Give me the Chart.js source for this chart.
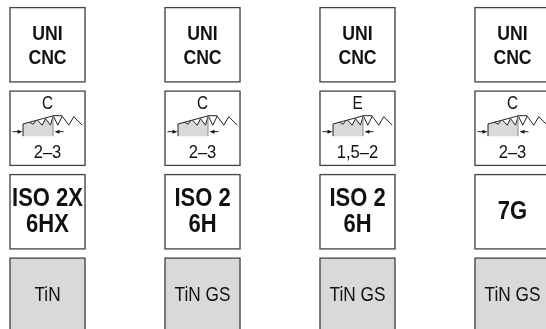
<!DOCTYPE html>
<html><head><meta charset="utf-8">
<style>
html,body{margin:0;padding:0;width:546px;height:329px;overflow:hidden;background:#fff}
#w{position:absolute;left:-30.5px;top:0;width:620px;height:340px}
</style>
<script src="https://cdn.jsdelivr.net/npm/chart.js@4/dist/chart.umd.min.js"></script>
</head><body><div id="w"><canvas id="c" width="620" height="340"></canvas></div>
<script>
const columns = ["A","B","C","D"];
const threadSystem = [["UNI","CNC"],["UNI","CNC"],["UNI","CNC"],["UNI","CNC"]];
const chamferForm = ["C","C","E","C"];
const chamferPitch = ["2–3","2–3","1,5–2","2–3"];
const toleranceClass = [["ISO 2X","6HX"],["ISO 2","6H"],["ISO 2","6H"],["7G"]];
const coating = ["TiN","TiN GS","TiN GS","TiN GS"];
const rowFills = ["#ffffff","#ffffff","#ffffff","#d9d9d9"];
const rowBand = [0.05,0.95];

const FONT = '"Liberation Sans",sans-serif';
const text = (ctx,lines,x,cy,size,weight,lh,sx)=>{
  ctx.save();
  ctx.font = `${weight} ${size}px ${FONT}`;
  ctx.fillStyle = "#111";
  ctx.textAlign = "center"; ctx.textBaseline = "alphabetic";
  ctx.translate(x,cy);ctx.scale(sx,1);
  const cap=size*0.72;
  lines.forEach((l,i)=>ctx.fillText(l,0,cap/2+(i-(lines.length-1)/2)*lh));
  ctx.restore();
};
function glyph(ctx,x0,y0){
  const P=(a)=>a.forEach(([x,y],i)=>i?ctx.lineTo(x0+x,y0+y):ctx.moveTo(x0+x,y0+y));
  ctx.fillStyle="#d9d9d9";ctx.beginPath();
  P([[13.5,46.5],[13.5,34.3],[20,32.6],[23.7,34.5],[26,31],[28,30.5],[32.7,35.5],[36,29],[41,35.5],[43.5,26],[43.5,46.5]]);ctx.closePath();ctx.fill();
  ctx.strokeStyle="#222";ctx.lineWidth=1;ctx.beginPath();
  P([[13.5,46.5],[13.5,34.3],[44.3,26],[52.7,26]]);ctx.stroke();
  ctx.beginPath();
  P([[20,32.6],[23.7,34.5],[26,31]]);ctx.stroke();
  ctx.beginPath();
  P([[28,30.5],[32.7,35.5],[36,29],[41,35.5],[43.7,26],[48.3,35.5],[52.7,26.5],[59.3,35.5],[64.3,27],[72.7,35.5]]);ctx.stroke();
  ctx.beginPath();ctx.moveTo(x0+43.5,y0+26);ctx.lineTo(x0+43.5,y0+46.5);ctx.strokeStyle="#888";ctx.stroke();
  ctx.strokeStyle="#222";ctx.beginPath();
  P([[3,42],[12,42]]);ctx.moveTo(x0+46,y0+42);ctx.lineTo(x0+54,y0+42);ctx.stroke();
  ctx.fillStyle="#111";
  ctx.beginPath();P([[12.5,42],[8,40],[8,44]]);ctx.closePath();ctx.fill();
  ctx.beginPath();P([[45.5,42],[50,40],[50,44]]);ctx.closePath();ctx.fill();
}
const labels = {id:"labels",afterDatasetsDraw(chart){
  const ctx=chart.ctx;
  columns.forEach((_,i)=>{
    const b=r=>chart.getDatasetMeta(r).data[i];
    const cy=r=>{const e=b(r);return (e.y+e.base)/2;};
    const x=b(0).x;
    text(ctx,threadSystem[i],x,cy(0)-0.5,21,"bold",24.5,0.84);
    const top=Math.min(b(1).y,b(1).base);
    ctx.save();glyph(ctx,x-38,top-1);ctx.restore();
    text(ctx,[chamferForm[i]],x,top+11.5,18,"normal",0,0.85);
    text(ctx,[chamferPitch[i]],x,top+60.5,18,"normal",0,0.92);
    text(ctx,toleranceClass[i],x,cy(2)-2,25,"bold",26,0.88);
    text(ctx,[coating[i]],x,cy(3)-1.5,21,"normal",0,0.82);
  });
}};
new Chart(document.getElementById("c"),{
  type:"bar",
  data:{labels:columns,datasets:rowFills.map((f,r)=>({
    data:columns.map(()=>[r+rowBand[0],r+rowBand[1]]),
    backgroundColor:f,borderColor:"#444",borderWidth:1.5,borderSkipped:false,
    barThickness:76,grouped:false
  }))},
  plugins:[labels],
  options:{responsive:false,animation:false,
    layout:{padding:{top:3,bottom:3}},
    plugins:{legend:{display:false},tooltip:{enabled:false}},
    scales:{x:{display:false},y:{display:false,min:0,max:4,reverse:true}}}
});
</script></body></html>
